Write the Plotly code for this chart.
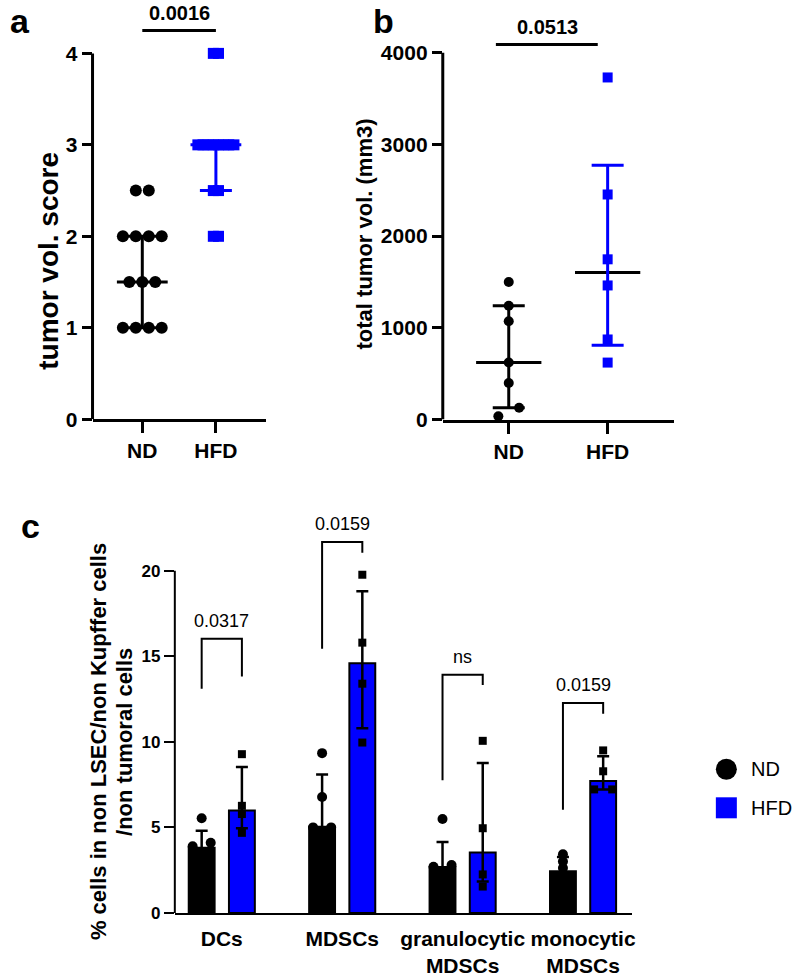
import numpy as np
import plotly.graph_objects as go

W, H = 800, 977
FONT = "Liberation Sans, Arial, Helvetica, sans-serif"
BLUE = "#0000FF"
BLACK = "#000000"

# ---------------- data ----------------
groups = ["ND", "HFD"]

# panel a : tumor volume score
a_nd = [1, 1, 1, 1, 1.5, 1.5, 1.5, 2, 2, 2, 2, 2.5, 2.5]
a_hfd = [2, 2, 2.5, 2.5, 3, 3, 3, 3, 3, 3, 3, 3, 4, 4]
a_yticks = [0, 1, 2, 3, 4]
a_pval = "0.0016"
a_ytitle = "tumor vol. score"

# panel b : total tumor volume
b_nd = [36, 129, 399, 621, 1071, 1240, 1499]
b_hfd = [621, 873, 1462, 1747, 2454, 3730]
b_yticks = [0, 1000, 2000, 3000, 4000]
b_pval = "0.0513"
b_ytitle = "total tumor vol. (mm3)"

# panel c : immune cell percentages
c_cats = ["DCs", "MDSCs", "granulocytic<br>MDSCs", "monocytic<br>MDSCs"]
c_nd_mean = [3.81, 5.04, 2.69, 2.44]
c_nd_sd = [1.0, 3.05, 1.45, 0.83]
c_hfd_mean = [5.98, 14.6, 3.53, 7.71]
c_hfd_err_up = [2.55, 4.2, 5.23, 1.45]
c_hfd_err_down = [1.03, 3.8, 1.7, 0.5]
c_nd_points = [[3.89, 4.1, 5.53], [5.0, 5.0, 6.78, 9.34], [2.7, 2.8, 5.49], [2.62, 3.0, 3.43]]
c_hfd_points = [[4.68, 5.78, 6.26, 9.28], [9.96, 13.4, 15.8, 19.77],
                [1.54, 2.25, 4.95, 10.06], [7.22, 7.22, 8.28, 9.5]]
c_pvals = ["0.0317", "0.0159", "ns", "0.0159"]
c_bracket_top = [16.03, 21.68, 13.93, 12.27]
c_bracket_left_end = [13.1, 15.45, 7.75, 6.03]
c_bracket_right_end = [13.82, 21.06, 13.33, 11.65]
c_yticks = [0, 5, 10, 15, 20]
c_ytitle_lines = ["% cells in non LSEC/non Kupffer cells", "/non tumoral cells"]
legend_labels = ["ND", "HFD"]


# ---------------- helpers ----------------
def prism_quantile(vals, p):
    v = sorted(vals)
    n = len(v)
    pos = p * (n + 1)
    if pos <= 1:
        return v[0]
    if pos >= n:
        return v[-1]
    lo = int(np.floor(pos))
    frac = pos - lo
    return v[lo - 1] + frac * (v[lo] - v[lo - 1])


def swarm_offsets(vals, thresh, step):
    vals = list(vals)
    order = sorted(range(len(vals)), key=lambda i: vals[i])
    offs = [0.0] * len(vals)
    clusters, cur = [], [order[0]]
    for i in order[1:]:
        if vals[i] - vals[cur[-1]] < thresh:
            cur.append(i)
        else:
            clusters.append(cur)
            cur = [i]
    clusters.append(cur)
    for cl in clusters:
        k = len(cl)
        for j, idx in enumerate(cl):
            offs[idx] = (j - (k - 1) / 2) * step
    return np.array(offs)


def y_domain(y0_px, ytick_px, tick_val, range_top):
    ppu = (y0_px - ytick_px) / tick_val
    return [1 - y0_px / H, 1 - (y0_px - range_top * ppu) / H]


def px(x):
    return x / W


def py(y):
    return 1 - y / H


fig = go.Figure()
shapes = []
annotations = []

# ---------------- panels a and b (scatter with median & IQR) ----------------
dot_panels = [
    dict(ax="", data=[a_nd, a_hfd], thresh=0.2, steps=[0.176, 0.07], sizes=[12, 11],
         med_colors=[BLACK, BLUE], half=0.345, ymax=4, rtop=4.55,
         xdom=[93, 267], ypx=[424, 54], xr=[0.324, 2.676], yticks=a_yticks,
         pval=a_pval, sig_x=[1.0, 2.0], sig_y=4.25, p_x=1.5, p_y=4.44, title=a_ytitle,
         title_size=28, title_x=48, title_y=264, label="a", label_x=20),
    dict(ax="2", data=[b_nd, b_hfd], thresh=100, steps=[0.21, 0.21], sizes=[10, 10],
         med_colors=[BLACK, BLACK], half=0.33, ymax=4000, rtop=4500,
         xdom=[445, 677], ypx=[424.3, 53.3], xr=[0.333, 2.667], yticks=b_yticks,
         pval=b_pval, sig_x=[0.87, 1.9], sig_y=4090, p_x=1.39, p_y=4284, title=b_ytitle,
         title_size=22, title_x=366, title_y=237, label="b", label_x=385),
]
colors = [BLACK, BLUE]
symbols = ["circle", "square"]

for P in dot_panels:
    xa, ya = "x" + P["ax"], "y" + P["ax"]
    for gi, vals in enumerate(P["data"]):
        xc = gi + 1
        med = prism_quantile(vals, 0.5)
        q1 = prism_quantile(vals, 0.25)
        q3 = prism_quantile(vals, 0.75)
        fig.add_trace(go.Scatter(
            x=[xc - P["half"], xc + P["half"]], y=[med, med], mode="lines",
            line=dict(color=P["med_colors"][gi], width=3),
            xaxis=xa, yaxis=ya, hoverinfo="skip", showlegend=False))
        fig.add_trace(go.Scatter(
            x=[xc], y=[med], mode="markers",
            marker=dict(size=1, color="rgba(0,0,0,0)"),
            error_y=dict(type="data", symmetric=False, array=[q3 - med],
                         arrayminus=[med - q1], color=colors[gi], thickness=3, width=16),
            xaxis=xa, yaxis=ya, hoverinfo="skip", showlegend=False))
        offs = swarm_offsets(vals, P["thresh"], P["steps"][gi])
        fig.add_trace(go.Scatter(
            x=xc + offs, y=vals, mode="markers", cliponaxis=False,
            marker=dict(symbol=symbols[gi], size=P["sizes"][gi], color=colors[gi],
                        line=dict(width=0)),
            xaxis=xa, yaxis=ya, name=groups[gi], showlegend=False))

    ydom = y_domain(P["ypx"][0], P["ypx"][1], P["ymax"], P["rtop"])
    fig.layout["xaxis" + P["ax"]] = dict(
        domain=[px(P["xdom"][0]), px(P["xdom"][1])], range=P["xr"], anchor=ya,
        tickvals=[1, 2], ticktext=groups, showline=True, linewidth=3, linecolor=BLACK,
        ticks="outside", ticklen=11, tickwidth=3, tickcolor=BLACK,
        tickfont=dict(family=FONT, size=21, color=BLACK, weight="bold"),
        showgrid=False, zeroline=False, fixedrange=True)
    fig.layout["yaxis" + P["ax"]] = dict(
        domain=ydom, range=[0, P["rtop"]], anchor=xa, tickvals=P["yticks"],
        showline=False, ticks="outside", ticklen=10, tickwidth=3, tickcolor=BLACK,
        tickfont=dict(family=FONT, size=21, color=BLACK, weight="bold"),
        showgrid=False, zeroline=False, fixedrange=True)
    # y axis line only up to the top tick
    shapes.append(dict(type="line", xref=xa + " domain", yref=ya, x0=0, x1=0,
                       y0=0, y1=P["ymax"], line=dict(color=BLACK, width=3)))
    # significance line and p value
    shapes.append(dict(type="line", xref=xa, yref=ya, x0=P["sig_x"][0], x1=P["sig_x"][1],
                       y0=P["sig_y"], y1=P["sig_y"], line=dict(color=BLACK, width=3)))
    annotations.append(dict(xref=xa, yref=ya, x=P["p_x"], y=P["p_y"], text=P["pval"],
                            showarrow=False, xanchor="center", yanchor="middle",
                            font=dict(family=FONT, size=20, color=BLACK, weight="bold")))
    annotations.append(dict(xref="paper", yref="paper", x=px(P["title_x"]),
                            y=py(P["title_y"]),
                            text=P["title"], textangle=-90, showarrow=False,
                            xanchor="center", yanchor="middle",
                            font=dict(family=FONT, size=P["title_size"], color=BLACK,
                                      weight="bold")))
    annotations.append(dict(xref="paper", yref="paper", x=px(P["label_x"]), y=py(21),
                            text=P["label"], showarrow=False, xanchor="center",
                            yanchor="middle",
                            font=dict(family=FONT, size=34, color=BLACK, weight="bold")))

# ---------------- panel c (bars) ----------------
idx = np.arange(len(c_cats))
OFF, BW = 0.167, 0.215
nd_x = idx - OFF
hfd_x = idx + OFF

fig.add_trace(go.Bar(
    x=nd_x, y=c_nd_mean, width=BW, name="ND",
    marker=dict(color=BLACK, line=dict(color=BLACK, width=2)),
    error_y=dict(type="data", array=c_nd_sd, color=BLACK, thickness=2.5, width=6),
    xaxis="x3", yaxis="y3", showlegend=False))
fig.add_trace(go.Bar(
    x=hfd_x, y=c_hfd_mean, width=BW, name="HFD",
    marker=dict(color=BLUE, line=dict(color=BLACK, width=2)),
    error_y=dict(type="data", symmetric=False, array=c_hfd_err_up,
                 arrayminus=c_hfd_err_down, color=BLACK, thickness=2.5, width=6),
    xaxis="x3", yaxis="y3", showlegend=False))

for i in range(len(c_cats)):
    o = swarm_offsets(c_nd_points[i], 0.3, 0.15)
    fig.add_trace(go.Scatter(
        x=nd_x[i] + o, y=c_nd_points[i], mode="markers", cliponaxis=False,
        marker=dict(symbol="circle", size=10, color=BLACK, line=dict(width=0)),
        xaxis="x3", yaxis="y3", showlegend=False, name="ND"))
    o = swarm_offsets(c_hfd_points[i], 0.3, 0.15)
    fig.add_trace(go.Scatter(
        x=hfd_x[i] + o, y=c_hfd_points[i], mode="markers", cliponaxis=False,
        marker=dict(symbol="square", size=8, color=BLACK, line=dict(width=0)),
        xaxis="x3", yaxis="y3", showlegend=False, name="HFD"))
    l, r = nd_x[i], hfd_x[i]
    shapes.append(dict(type="path", xref="x3", yref="y3",
                       path=f"M {l},{c_bracket_left_end[i]} L {l},{c_bracket_top[i]} "
                            f"L {r},{c_bracket_top[i]} L {r},{c_bracket_right_end[i]}",
                       line=dict(color=BLACK, width=2)))
    annotations.append(dict(xref="x3", yref="y3", x=idx[i], y=c_bracket_top[i],
                            text=c_pvals[i], showarrow=False, xanchor="center",
                            yanchor="bottom", yshift=6,
                            font=dict(family=FONT, size=18, color=BLACK)))

C_RTOP = 24
fig.layout.xaxis3 = dict(
    domain=[px(175.7), px(635)], range=[-0.39, 3.405], anchor="y3",
    tickvals=idx, ticktext=c_cats, showline=True, linewidth=2, linecolor=BLACK,
    ticks="", ticklabelstandoff=6,
    tickfont=dict(family=FONT, size=21, color=BLACK, weight="bold"),
    showgrid=False, zeroline=False, fixedrange=True)
fig.layout.yaxis3 = dict(
    domain=y_domain(923.3, 577.3, 20, C_RTOP), range=[0, C_RTOP], anchor="x3",
    tickvals=c_yticks, showline=False, ticks="outside", ticklen=10, tickwidth=2,
    tickcolor=BLACK, tickfont=dict(family=FONT, size=17, color=BLACK, weight="bold"),
    showgrid=False, zeroline=False, fixedrange=True)
shapes.append(dict(type="line", xref="x3 domain", yref="y3", x0=0, x1=0, y0=0, y1=20,
                   line=dict(color=BLACK, width=2)))
for k, (line_txt, lx) in enumerate(zip(c_ytitle_lines, [99, 125])):
    annotations.append(dict(xref="paper", yref="paper", x=px(lx), y=py(750),
                            text=line_txt, textangle=-90, showarrow=False,
                            xanchor="center", yanchor="middle",
                            font=dict(family=FONT, size=22, color=BLACK, weight="bold")))
annotations.append(dict(xref="paper", yref="paper", x=px(30.7), y=py(532), text="c",
                        showarrow=False, xanchor="center", yanchor="middle",
                        font=dict(family=FONT, size=34, color=BLACK, weight="bold")))

# ---------------- legend (drawn on a hidden pixel-scaled axis) ----------------
leg_x = [730, 730]
leg_y = [778, 817]
for k in range(2):
    fig.add_trace(go.Scatter(
        x=[leg_x[k]], y=[leg_y[k]], mode="markers", cliponaxis=False,
        marker=dict(symbol=symbols[k], size=21, color=colors[k], line=dict(width=0)),
        xaxis="x4", yaxis="y4", showlegend=False, hoverinfo="skip"))
    annotations.append(dict(xref="x4", yref="y4", x=leg_x[k] + 23, y=leg_y[k],
                            text=legend_labels[k], showarrow=False, xanchor="left",
                            yanchor="middle", font=dict(family=FONT, size=20, color=BLACK)))
fig.layout.xaxis4 = dict(domain=[0, 1], range=[0, W], visible=False, anchor="y4",
                         fixedrange=True)
fig.layout.yaxis4 = dict(domain=[0, 1], range=[H, 0], visible=False, anchor="x4",
                         fixedrange=True)

fig.update_layout(
    width=W, height=H, margin=dict(l=0, r=0, t=0, b=0),
    paper_bgcolor="white", plot_bgcolor="rgba(0,0,0,0)",
    barmode="overlay", showlegend=False,
    shapes=shapes, annotations=annotations,
    font=dict(family=FONT, color=BLACK))

fig.write_html(
    "out.html", config={"displayModeBar": False},
    post_script=("document.documentElement.style.margin='0';"
                 "document.documentElement.style.overflow='hidden';"
                 "document.body.style.margin='0';"
                 "document.body.style.padding='0';"
                 "document.body.style.overflow='hidden';"))
